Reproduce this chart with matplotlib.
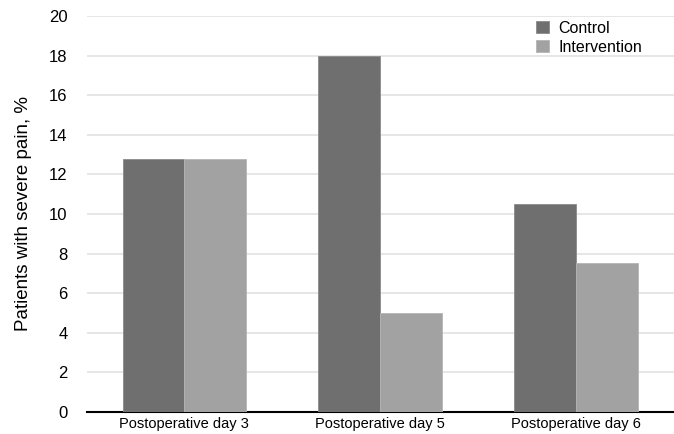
import matplotlib.pyplot as plt
import numpy as np

plt.rcParams['font.family'] = ['Liberation Sans', 'DejaVu Sans']

# Data
days = ['Postoperative day 3', 'Postoperative day 5', 'Postoperative day 6']
control = [12.8, 18.0, 10.5]
intervention = [12.8, 5.0, 7.5]
yticks = [0, 2, 4, 6, 8, 10, 12, 14, 16, 18, 20]

fig = plt.figure(figsize=(6.74, 4.34), dpi=100)
ax = fig.add_axes([0.129, 0.051, 0.871, 0.912])

x = np.arange(len(days))
w = 0.315
ax.bar(x - w / 2, control, w, color='#6f6f6f', edgecolor='#8a8a8a', linewidth=0.6,
       label='Control', zorder=3)
ax.bar(x + w / 2, intervention, w, color='#a2a2a2', edgecolor='#b5b5b5', linewidth=0.6,
       label='Intervention', zorder=3)

ax.set_xlim(-0.497, 2.5)
ax.set_ylim(0, 20)
ax.set_yticks(yticks)
ax.set_xticks(x)
ax.set_xticklabels(days, fontsize=10.5)
ax.tick_params(axis='y', labelsize=12, length=0, pad=14)
ax.tick_params(axis='x', length=0, pad=4)
ax.yaxis.grid(True, color='#e2e2e2', linewidth=1.2, zorder=0)
for s in ['top', 'right', 'left']:
    ax.spines[s].set_visible(False)
ax.spines['bottom'].set_linewidth(1.5)
ax.spines['bottom'].set_color('black')
ax.set_ylabel('Patients with severe pain, %', fontsize=13.5, labelpad=12)

ax.legend(loc='upper left', bbox_to_anchor=(0.74, 1.025), frameon=False, fontsize=11.5,
          handlelength=0.8, handleheight=0.8, handletextpad=0.6, labelspacing=0.25)

fig.savefig('out.png', dpi=100)
